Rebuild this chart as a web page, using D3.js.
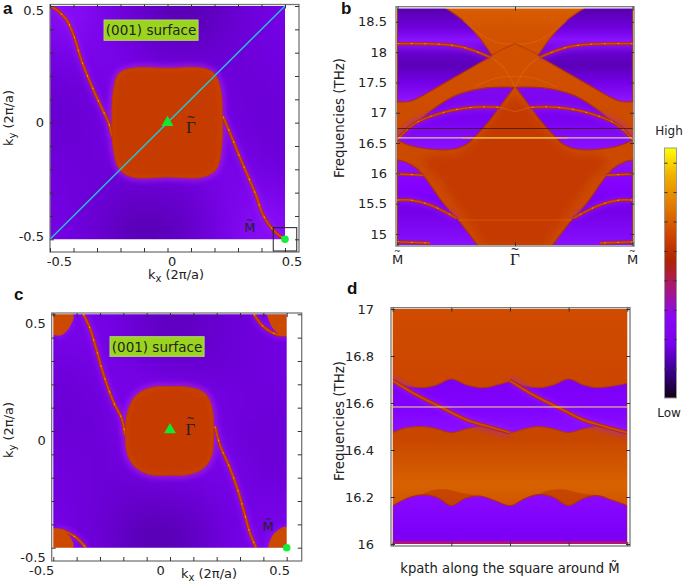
<!DOCTYPE html>
<html>
<head>
<meta charset="utf-8">
<script src="https://cdn.jsdelivr.net/npm/d3@7"></script>
<style>
  html, body { margin: 0; background: #fff; }
  text { font-family: "DejaVu Sans", sans-serif; fill: #222; }
  .letter { font-family: "Liberation Sans", sans-serif; font-weight: bold; font-size: 17px; fill: #111; }
  .tick line { stroke: #333; stroke-width: 1; }
</style>
</head>
<body>
<div id="chart"></div>
<script>
// everything is in k units / THz
const kTicks = d3.range(-5, 6).map(d => d / 10);
const kLabelsA = [[-0.46, '-0.5'], [0.02, '0'], [0.53, '0.5']];
const kLabelsC = [[-0.55, '-0.5'], [-0.04, '0'], [0.47, '0.5']];
const kyLabelsA = [[0.48, '0.5'], [0, '0'], [-0.49, '-0.5']];
const kyLabelsC = [[0.46, '0.5'], [-0.04, '0'], [-0.54, '-0.5']];
const freqTicksB = [15, 15.5, 16, 16.5, 17, 17.5, 18, 18.5];
const freqTicksD = [16, 16.2, 16.4, 16.6, 16.8, 17];
const pathTicksB = [0, 1, 2];
const pathLabelsB = ['M', '\u0393', 'M'];
const pathTicksD = [0, 1, 2, 3, 4];

const paletteStops = [0, 0.11, 0.22, 0.33, 0.44, 0.55, 0.66, 0.77, 0.89, 1];
const paletteColors = ['#120012', '#3a0090', '#7a00f0', '#8c08f0', '#a81878', '#b02400', '#d04800', '#e07c00', '#f0b000', '#ffff00'];

// background shade (0 dark .. 1 bright violet), rows top to bottom
const shadeA = [
  [.85, .9, .6, .35, .12, .08, .3, .45, .6],
  [.7, .8, .6, .4, .22, .18, .35, .45, .55],
  [.5, .55, .65, .5, .4, .4, .4, .45, .5],
  [.4, .4, .55, .65, .6, .6, .45, .4, .45],
  [.35, .35, .5, .7, .7, .7, .5, .4, .4],
  [.45, .4, .45, .6, .6, .6, .6, .45, .4],
  [.5, .45, .4, .4, .4, .45, .65, .6, .5],
  [.55, .45, .35, .2, .25, .35, .6, .8, .75],
  [.6, .45, .3, .08, .12, .35, .6, .9, .85]
];
const shadeC = [
  [.7, .6, .55, .35, .15, .25, .4, .45, .6],
  [.55, .6, .55, .4, .25, .3, .4, .45, .5],
  [.45, .45, .6, .5, .4, .4, .4, .45, .5],
  [.4, .4, .5, .65, .65, .6, .5, .45, .45],
  [.4, .4, .45, .7, .7, .7, .45, .4, .4],
  [.45, .45, .4, .6, .65, .6, .6, .4, .4],
  [.5, .45, .4, .35, .4, .45, .55, .5, .45],
  [.55, .45, .35, .2, .2, .3, .5, .55, .6],
  [.65, .5, .35, .12, .08, .25, .5, .6, .7]
];

const pocketA = [[-0.15, 0.233], [0, 0.233], [0.15, 0.233], [0.2, 0.21], [0.226, 0.14], [0.233, 0.03], [0.23, -0.1], [0.207, -0.2], [0.15, -0.233], [0, -0.233], [-0.15, -0.233], [-0.204, -0.2], [-0.229, -0.12], [-0.236, 0], [-0.231, 0.13], [-0.207, 0.21]];
const lineA1 = [[-0.5, 0.5], [-0.471, 0.483], [-0.429, 0.44], [-0.4, 0.376], [-0.364, 0.261], [-0.321, 0.154], [-0.279, 0.061], [-0.25, -0.003], [-0.236, -0.06]];
const lineA2 = [[0.236, 0.026], [0.264, -0.039], [0.307, -0.146], [0.343, -0.231], [0.379, -0.317], [0.4, -0.381], [0.429, -0.434], [0.464, -0.474], [0.5, -0.5]];

const pocketC = [[0, 0.19], [0.086, 0.186], [0.15, 0.161], [0.18, 0.097], [0.186, 0], [0.179, -0.103], [0.143, -0.16], [0.079, -0.186], [0, -0.189], [-0.086, -0.186], [-0.15, -0.153], [-0.183, -0.096], [-0.19, 0], [-0.179, 0.09], [-0.143, 0.154], [-0.079, 0.186]];
const cornerTL = [[-0.507, 0.411], [-0.464, 0.411], [-0.429, 0.447], [-0.417, 0.5], [-0.507, 0.5]];
const cornerTR = [[0.414, 0.5], [0.436, 0.447], [0.471, 0.414], [0.5, 0.414], [0.5, 0.5]];
const cornerBL = [[-0.507, -0.417], [-0.464, -0.42], [-0.429, -0.453], [-0.417, -0.5], [-0.507, -0.5]];
const cornerBR = [[0.419, -0.5], [0.436, -0.453], [0.464, -0.424], [0.5, -0.414], [0.5, -0.5]];
const lineC1 = [[-0.371, 0.5], [-0.343, 0.44], [-0.321, 0.369], [-0.286, 0.246], [-0.243, 0.126], [-0.207, 0.054], [-0.193, -0.017]];
const lineC2 = [[0.193, 0.019], [0.214, -0.06], [0.257, -0.16], [0.293, -0.26], [0.321, -0.36], [0.343, -0.439], [0.369, -0.5]];
const lineC3 = [[-0.464, -0.424], [-0.407, -0.453], [-0.36, -0.5]];
const lineC4 = [[0.36, 0.5], [0.4, 0.447], [0.457, 0.414], [0.5, 0.411]];

// panel b, left half only: k 0 (M) .. 1 (Gamma), mirrored for the right half
const b1Top = [[0, 18.75], [0.412, 18.75]];
const b1Side = [[0.412, 18.72], [0.559, 18.52], [0.7, 18.225], [0.8, 17.95]];
const b1Low = [[0.78, 17.91], [0.616, 17.73], [0.39, 17.48], [0.22, 17.29], [0.107, 17.19], [0, 17.18]];
const b2Top = [[0, 16.56], [0.136, 16.78], [0.277, 17.02], [0.503, 17.29], [0.757, 17.41], [0.992, 17.42]];
const b2Low = [[0.992, 17.42], [0.87, 17.1], [0.785, 16.88], [0.686, 16.66], [0.588, 16.48], [0.475, 16.4], [0.277, 16.4], [0.107, 16.46], [0, 16.55]];
const b3Edge = [[0, 16.22], [0.065, 16.19], [0.164, 16.08], [0.249, 15.89], [0.39, 15.505], [0.517, 15.23], [0.686, 14.8]];
const b3Low = [[0.686, 14.75], [0, 14.75]];
const bCore = [[1, 17.3], [0.85, 17], [0.68, 16.55], [0.5, 16.3], [0.3, 16.3], [0.2, 16.2], [0.36, 15.9], [0.52, 15.45], [0.75, 14.82], [1, 14.82]];
const bBands = [
  [[0, 18.14], [0.362, 18.13], [0.559, 18.08], [0.785, 17.92]],
  [[0, 16.56], [0.136, 16.81], [0.362, 16.99], [0.644, 17.09], [0.87, 17.09]],
  [[0, 15.99], [0.22, 15.97]],
  [[0, 15.56], [0.107, 15.56], [0.277, 15.48], [0.503, 15.26]],
  [[0, 14.87], [0.277, 14.85]]
];
const bFaint = [
  [[0.56, 18.52], [0.7, 18.3], [0.85, 18.16], [1, 18.13]],
  [[0.644, 17.42], [0.84, 17.57], [1, 17.6]],
  [[0.8, 17.9], [0.9, 17.75], [1, 17.42]],
  [[0.87, 17.09], [1, 17.02]],
  [[0.517, 15.23], [1, 15.23]]
];
const bEdgeDark = [[0.8, 17.95], [0.9, 18.05], [1, 18.14]];
const bBlackLine = 16.74;
const bYellowLine = 16.585;

// panel d, four kpath segments
const d1Top = [[0, 16.7], [0.239, 16.672], [0.494, 16.665], [0.75, 16.677], [1, 16.702], [1.261, 16.677], [1.545, 16.665], [1.83, 16.68], [2, 16.69], [2.25, 16.672], [2.483, 16.665], [2.739, 16.677], [3, 16.702], [3.25, 16.677], [3.477, 16.665], [3.761, 16.672], [4, 16.684]];
const d1Low = [[4, 16.475], [3.761, 16.49], [3.477, 16.5], [3.25, 16.49], [3, 16.474], [2.739, 16.49], [2.483, 16.5], [2.25, 16.49], [2, 16.474], [1.77, 16.488], [1.489, 16.5], [1.261, 16.49], [1, 16.474], [0.75, 16.49], [0.494, 16.5], [0.239, 16.495], [0, 16.474]];
const d2Top = [[0, 16.163], [0.239, 16.194], [0.511, 16.209], [0.75, 16.199], [1, 16.163], [1.233, 16.194], [1.477, 16.204], [1.716, 16.187], [2, 16.163], [2.256, 16.194], [2.511, 16.211], [2.739, 16.199], [3, 16.163], [3.25, 16.194], [3.477, 16.206], [3.733, 16.187], [4, 16.163]];
const d2Low = [[4, 16], [0, 16]];
const dArc1 = [[0.511, 16.209], [0.64, 16.227], [0.89, 16.233], [1.2, 16.216], [1.477, 16.204], [1.233, 16.194], [1, 16.163], [0.75, 16.199]];
const dArc2 = [[2.511, 16.211], [2.64, 16.227], [2.89, 16.233], [3.2, 16.216], [3.477, 16.206], [3.25, 16.194], [3, 16.163], [2.739, 16.199]];
const dBand1 = [[0, 16.695], [0.409, 16.634], [0.864, 16.577], [1.261, 16.528], [1.602, 16.502], [2, 16.474]];
const dBand2 = [[2, 16.695], [2.398, 16.634], [2.852, 16.577], [3.25, 16.528], [3.591, 16.502], [4, 16.474]];
const dYellowLine = 16.583;

const svg = d3.select('#chart').append('svg').attr('width', 685).attr('height', 583);
const defs = svg.append('defs');

[['blurS', 0.6], ['blurM', 2.5], ['blurC', 4], ['blurXL', 15]].forEach(([id, s]) => {
  defs.append('filter').attr('id', id)
    .attr('x', '-30%').attr('y', '-30%').attr('width', '160%').attr('height', '160%')
    .attr('color-interpolation-filters', 'sRGB')
    .append('feGaussianBlur').attr('stdDeviation', s);
});

function gradient(id, stops, y1, y2) {
  const g = defs.append('linearGradient').attr('id', id)
    .attr('gradientUnits', 'userSpaceOnUse')
    .attr('x1', 0).attr('x2', 0).attr('y1', y1).attr('y2', y2);
  stops.forEach(s => g.append('stop').attr('offset', s[0]).attr('stop-color', s[1]));
}

function clipRect(id, x, y, w, h) {
  defs.append('clipPath').attr('id', id).append('rect')
    .attr('x', x).attr('y', y).attr('width', w).attr('height', h);
}

function makeLine(x, y, curve) {
  return d3.line().x(d => x(d[0])).y(d => y(d[1])).curve(curve || d3.curveCatmullRom);
}

// pocket outline made of smooth edges with sharp corners between them
function edgesPath(x, y, edges, curve) {
  const line = makeLine(x, y, curve);
  return edges.map((e, i) => i === 0 ? line(e) : 'L' + line(e).slice(1)).join('') + 'Z';
}

function drawBand(g, line, pts, w, beads) {
  w = w || 1;
  g.append('path').attr('d', line(pts)).attr('fill', 'none')
    .attr('stroke', '#9c1cff').attr('stroke-width', 8 * w).attr('opacity', 0.45).attr('filter', 'url(#blurM)');
  g.append('path').attr('d', line(pts)).attr('fill', 'none')
    .attr('stroke', '#ac2a18').attr('stroke-width', 3.6 * w);
  g.append('path').attr('d', line(pts)).attr('fill', 'none')
    .attr('stroke', '#d04c08').attr('stroke-width', 1.6 * w);
  if (beads !== false) {
    g.append('path').attr('d', line(pts)).attr('fill', 'none')
      .attr('stroke', '#ffb030').attr('stroke-width', 1.1 * w).attr('stroke-dasharray', '1.5 12').attr('opacity', 0.75);
  }
}

function drawAxes(g, box, x, xTicks, y, yTicks) {
  g.append('rect').attr('x', box.x0).attr('y', box.y0)
    .attr('width', box.x1 - box.x0).attr('height', box.y1 - box.y0)
    .attr('fill', 'none').attr('stroke', '#777').attr('stroke-width', 1.3);

  const axes = [
    [d3.axisBottom(x).tickValues(xTicks).tickSize(-4), `translate(0,${box.y1})`],
    [d3.axisTop(x).tickValues(xTicks).tickSize(-4), `translate(0,${box.y0})`],
    [d3.axisLeft(y).tickValues(yTicks).tickSize(-4), `translate(${box.x0},0)`],
    [d3.axisRight(y).tickValues(yTicks).tickSize(-4), `translate(${box.x1},0)`]
  ];
  axes.forEach(a => {
    const ag = g.append('g').attr('transform', a[1]).call(a[0].tickFormat(''));
    ag.select('.domain').remove();
  });
}

function label(g, px, py, str, size, anchor) {
  return g.append('text').attr('x', px).attr('y', py).attr('text-anchor', anchor || 'middle')
    .attr('dominant-baseline', 'central').attr('font-size', size).text(str);
}

// "k" + subscript + " (2pi/a)"
function kLabel(g, px, py, sub, rotate) {
  const t = g.append('text').attr('text-anchor', 'middle').attr('font-size', 13)
    .attr('transform', `translate(${px},${py})` + (rotate ? ' rotate(-90)' : ''));
  t.append('tspan').text('k');
  t.append('tspan').attr('dy', 3).attr('font-size', 10).text(sub);
  t.append('tspan').attr('dy', -3).text(' (2\u03c0/a)');
}

// combining tilde lands in the top bar of the letter, so it is set by hand
// as a raised tspan in the same text (widths are the letter advance in em)
function tildeLabel(g, px, py, str, size) {
  const gamma = str === '\u0393';
  const w = (gamma ? 0.578 : 0.863) * size;
  const tw = 0.838 * size * 0.62;
  const t = g.append('text').attr('x', px - w / 2).attr('y', py + size * 0.35).attr('font-size', size);
  const l = t.append('tspan').text(str);
  if (gamma) l.style('font-family', '"Liberation Serif", serif');
  t.append('tspan').attr('font-size', size * 0.62)
    .attr('dx', -(w + tw) / 2).attr('dy', -size * 0.72).text('~');
}

function surfaceTag(g, x, y, x0, x1, y0, y1) {
  g.append('rect').attr('x', x(x0)).attr('y', y(y0))
    .attr('width', x(x1) - x(x0)).attr('height', y(y1) - y(y0))
    .attr('fill', '#9ad41e').attr('stroke', '#b4d870');
  label(g, (x(x0) + x(x1)) / 2, (y(y0) + y(y1)) / 2, '(001) surface', 13.5);
}

function surfacePanel(o) {
  const g = svg.append('g');
  const x = d3.scaleLinear().domain([-0.5, 0.5]).range(o.xr);
  const y = d3.scaleLinear().domain([-0.5, 0.5]).range(o.yr);
  clipRect(o.id, o.xr[0], o.yr[1], o.xr[1] - o.xr[0], o.yr[0] - o.yr[1]);
  const plot = g.append('g').attr('clip-path', `url(#${o.id})`).append('g').attr('filter', 'url(#blurS)');
  const shade = d3.scaleLinear().domain([0, 0.5, 1]).range(['#5000a4', '#7200e2', '#9212ff']);

  plot.append('rect').attr('x', o.xr[0] - 20).attr('y', o.yr[1] - 20)
    .attr('width', o.xr[1] - o.xr[0] + 40).attr('height', o.yr[0] - o.yr[1] + 40).attr('fill', '#7000dc');

  const col = d3.scaleLinear().domain([-1, 10]).range([x(-0.7), x(0.7)]);
  const row = d3.scaleLinear().domain([-1, 10]).range([y(0.7), y(-0.7)]);
  const cells = o.shade.flatMap((r, i) => r.map((v, j) => ({ i: i, j: j, v: v })));
  plot.append('g').attr('filter', 'url(#blurXL)')
    .selectAll('rect').data(cells).enter().append('rect')
    .attr('x', d => col(d.j - 0.05))
    .attr('y', d => row(d.i - 0.05))
    .attr('width', col(1) - col(0) + 2)
    .attr('height', row(1) - row(0) + 2)
    .attr('fill', d => shade(d.v));

  const closed = makeLine(x, y, d3.curveCatmullRomClosed);
  const open = makeLine(x, y);

  plot.append('path').attr('d', closed(o.pocket))
    .attr('fill', 'none').attr('stroke', '#9a14ff').attr('stroke-width', 9)
    .attr('opacity', 0.55).attr('filter', 'url(#blurM)');
  o.corners.forEach(c => {
    plot.append('path').attr('d', makeLine(x, y, d3.curveLinear)(c)).attr('fill', 'none')
      .attr('stroke', '#9a14ff').attr('stroke-width', 6).attr('opacity', 0.5).attr('filter', 'url(#blurM)');
  });

  o.bands.forEach(b => drawBand(plot, open, b));

  plot.append('path').attr('d', closed(o.pocket)).attr('fill', '#c63c00')
    .attr('stroke', '#bc3400').attr('stroke-width', 1);
  plot.append('path').attr('d', closed(o.pocket)).attr('fill', 'none')
    .attr('stroke', '#dc6a08').attr('stroke-width', 2.5).attr('opacity', 0.3).attr('filter', 'url(#blurM)');
  o.corners.forEach(c => {
    plot.append('path').attr('d', makeLine(x, y, d3.curveCardinal)(c) + 'Z').attr('fill', '#cc4a00');
  });

  if (o.cyan) {
    g.append('line').attr('x1', x(-0.5)).attr('y1', y(-0.5)).attr('x2', x(0.5)).attr('y2', y(0.5))
      .attr('stroke', '#22c6dc').attr('stroke-width', 1.4);
  }

  drawAxes(g, o.box, x, kTicks, y, kTicks);
  o.xLabels.forEach(d => label(g, x(d[0]), o.box.y1 + 9, d[1], 13));
  o.yLabels.forEach(d => label(g, o.box.x0 - 6, y(d[0]), d[1], 13, 'end'));
  kLabel(g, o.xTitle[0], o.xTitle[1], 'x', false);
  kLabel(g, o.yTitle[0], o.yTitle[1], 'y', true);

  surfaceTag(g, x, y, o.tag[0], o.tag[1], o.tag[2], o.tag[3]);

  g.append('path').attr('d', d3.symbol(d3.symbolTriangle, 62)())
    .attr('transform', `translate(${x(0)},${y(o.tri)})`).attr('fill', '#12e632');
  g.append('circle').attr('cx', x(0.5)).attr('cy', y(-0.5)).attr('r', 3.8).attr('fill', '#12ee3a');

  tildeLabel(g, x(o.gammaAt[0]), y(o.gammaAt[1]), '\u0393', 17);
  tildeLabel(g, x(o.mAt[0]), y(o.mAt[1]), 'M', 13);
  return { g: g, x: x, y: y };
}

const panelA = surfacePanel({
  id: 'clipA', xr: [50, 285], yr: [239.3, 6], box: { x0: 50, x1: 299, y0: 4.5, y1: 252 },
  shade: shadeA, pocket: pocketA, corners: [], bands: [lineA1, lineA2], cyan: true,
  xLabels: kLabelsA, yLabels: kyLabelsA, xTitle: [176, 279], yTitle: [13, 118],
  tag: [-0.27, 0.13, 0.44, 0.353], tri: 0, gammaAt: [0.1, -0.02], mAt: [0.35, -0.45]
});
panelA.g.append('rect')
  .attr('x', panelA.x(0.45)).attr('y', panelA.y(-0.45))
  .attr('width', panelA.x(0.55) - panelA.x(0.45)).attr('height', panelA.y(-0.55) - panelA.y(-0.45))
  .attr('fill', 'none').attr('stroke', '#222').attr('stroke-width', 1);

surfacePanel({
  id: 'clipC', xr: [53.3, 286.7], yr: [547.7, 314.3], box: { x0: 51.7, x1: 301.7, y0: 313, y1: 561 },
  shade: shadeC, pocket: pocketC, corners: [cornerTL, cornerTR, cornerBL, cornerBR],
  bands: [lineC1, lineC2, lineC3, lineC4], cyan: false,
  xLabels: kLabelsC, yLabels: kyLabelsC, xTitle: [209, 578], yTitle: [13, 430],
  tag: [-0.257, 0.146, 0.404, 0.32], tri: 0.005, gammaAt: [0.087, 0.01], mAt: [0.42, -0.41]
});

// panel b
(function () {
  const g = svg.append('g');
  const box = { x0: 396, x1: 634, y0: 6.7, y1: 246 };
  const x = d3.scaleLinear().domain([0, 2]).range([397.5, 632.5]);
  const y = d3.scaleLinear().domain([15, 18.5]).range([234, 21.8]);
  clipRect('clipB', 397, y(18.72), 236, y(14.82) - y(18.72));
  const plot = g.append('g').attr('clip-path', 'url(#clipB)').append('g').attr('filter', 'url(#blurS)');
  const mirror = pts => pts.map(d => [2 - d[0], d[1]]);
  const both = f => { f(d => d); f(mirror); };

  gradient('orangeB', [[0, '#d85c00'], [0.1, '#d25200'], [0.55, '#cc4a00'], [1, '#cc4800']], y(18.7), y(14.8));
  gradient('purpleB1', [[0, '#5a00b0'], [0.2, '#6e00dc'], [0.33, '#8a10ff'], [0.5, '#6400c8'], [0.62, '#5c00b8'], [0.8, '#7400e8'], [1, '#9014ff']], y(18.7), y(17.2));
  gradient('purpleB2', [[0, '#8008f0'], [0.5, '#7a00f0'], [1, '#8a10ff']], y(17.4), y(16.4));
  gradient('purpleB3', [[0, '#8a10ff'], [0.3, '#8400ff'], [0.6, '#7400e8'], [1, '#8a10ff']], y(16.2), y(14.8));

  plot.append('rect').attr('x', x(0) - 5).attr('y', y(18.8))
    .attr('width', x(2) - x(0) + 10).attr('height', y(14.7) - y(18.8)).attr('fill', 'url(#orangeB)');

  const closed = makeLine(x, y, d3.curveLinear);
  plot.append('path').attr('d', closed(bCore.concat(mirror(bCore).reverse())) + 'Z')
    .attr('fill', '#c43a00').attr('filter', 'url(#blurC)');

  const pockets = [
    [[b1Top, b1Side, b1Low], 'purpleB1'],
    [[b2Top, b2Low], 'purpleB2'],
    [[b3Edge, b3Low], 'purpleB3']
  ];
  both(m => {
    pockets.forEach(p => {
      const path = edgesPath(x, y, p[0].map(m));
      plot.append('path').attr('d', path).attr('fill', 'url(#' + p[1] + ')')
        .attr('stroke', '#a82c20').attr('stroke-width', 1.2);
    });
  });
  both(m => {
    bBands.forEach(b => drawBand(plot, makeLine(x, y), m(b), 0.9));
    bFaint.forEach(b => {
      plot.append('path').attr('d', makeLine(x, y)(m(b))).attr('fill', 'none')
        .attr('stroke', '#e06c10').attr('stroke-width', 1.3).attr('opacity', 0.45);
    });
    plot.append('path').attr('d', makeLine(x, y)(m(bEdgeDark))).attr('fill', 'none')
      .attr('stroke', '#b03808').attr('stroke-width', 1.2).attr('opacity', 0.7);
  });

  const lines = g.append('g').attr('clip-path', 'url(#clipB)');
  lines.append('line').attr('x1', x(0)).attr('x2', x(2)).attr('y1', y(bBlackLine)).attr('y2', y(bBlackLine))
    .attr('stroke', '#401810').attr('stroke-width', 1).attr('opacity', 0.8);
  lines.append('line').attr('x1', x(0)).attr('x2', x(2)).attr('y1', y(bYellowLine)).attr('y2', y(bYellowLine))
    .attr('stroke', '#d8c8a8').attr('stroke-width', 1.2);
  lines.append('line').attr('x1', x(0.55)).attr('x2', x(1.45)).attr('y1', y(bYellowLine)).attr('y2', y(bYellowLine))
    .attr('stroke', '#f0b800').attr('stroke-width', 1);

  drawAxes(g, box, x, pathTicksB, y, freqTicksB);
  freqTicksB.forEach(d => label(g, 387, y(d), String(d), 13, 'end'));
  pathTicksB.forEach((d, i) => tildeLabel(g, x(d), 259, pathLabelsB[i], i === 1 ? 17 : 13));
  label(g, 339, 118, 'Frequencies (THz)', 13.4).attr('transform', 'rotate(-90 339 118)');
})();

// panel d
(function () {
  const g = svg.append('g');
  const box = { x0: 391, x1: 630, y0: 307.7, y1: 546 };
  const x = d3.scaleLinear().domain([0, 4]).range([392.7, 627.3]);
  const y = d3.scaleLinear().domain([16, 17]).range([544, 309]);
  clipRect('clipD', x(0), y(17), x(4) - x(0), y(16) - y(17));
  const plot = g.append('g').attr('clip-path', 'url(#clipD)').append('g').attr('filter', 'url(#blurS)');

  gradient('orangeD', [[0, '#d04c00'], [0.25, '#cc4600'], [0.55, '#c84600'], [0.75, '#d86200'], [0.84, '#d05400']], y(17), y(16));
  gradient('purpleD', [[0, '#7c00f4'], [0.5, '#8000ff'], [1, '#8a10ff']], y(16.7), y(16.47));
  gradient('purpleD2', [[0, '#8a08ff'], [0.7, '#7c00f8'], [1, '#8000f0']], y(16.2), y(16));

  plot.append('rect').attr('x', x(0) - 5).attr('y', y(17) - 5)
    .attr('width', x(4) - x(0) + 10).attr('height', y(16) - y(17) + 10).attr('fill', 'url(#orangeD)');

  [dArc1, dArc2].forEach(a => {
    plot.append('path').attr('d', makeLine(x, y, d3.curveCatmullRomClosed)(a)).attr('fill', '#bc3600').attr('opacity', 0.6);
  });

  const mono = d3.curveMonotoneX;
  plot.append('path').attr('d', edgesPath(x, y, [d1Top, d1Low], mono))
    .attr('fill', 'url(#purpleD)').attr('stroke', '#b03414').attr('stroke-width', 1.1);
  plot.append('path').attr('d', edgesPath(x, y, [d2Top, d2Low], mono))
    .attr('fill', 'url(#purpleD2)').attr('stroke', '#a82c20').attr('stroke-width', 1.1);

  // thin magenta strip along the bottom
  plot.append('rect').attr('x', x(0) - 5).attr('y', y(16.012))
    .attr('width', x(4) - x(0) + 10).attr('height', 8).attr('fill', '#b01478');

  [dBand1, dBand2].forEach(b => drawBand(plot, makeLine(x, y), b, 1.1, false));

  g.append('line').attr('x1', x(0)).attr('x2', x(4)).attr('y1', y(dYellowLine)).attr('y2', y(dYellowLine))
    .attr('stroke', '#f4e080').attr('stroke-width', 1);

  drawAxes(g, box, x, pathTicksD, y, freqTicksD);
  freqTicksD.forEach(d => label(g, 374, y(d), String(d), 13, 'end'));
  label(g, 339, 421, 'Frequencies (THz)', 13.4).attr('transform', 'rotate(-90 339 421)');
  label(g, 510, 568, 'kpath along the square around M\u0303', 13.2);
})();

// colorbar
(function () {
  const g = svg.append('g');
  const y = d3.scaleLinear().domain([0, 1]).range([398, 148]);
  const color = d3.scaleLinear().domain(paletteStops).range(paletteColors);
  gradient('palette', paletteStops.map(s => [1 - s, color(s)]).reverse(), y(1), y(0));
  g.append('rect').attr('x', 664.5).attr('y', y(1)).attr('width', 12).attr('height', y(0) - y(1))
    .attr('fill', 'url(#palette)').attr('stroke', '#999').attr('stroke-width', 1);
  const axisL = d3.axisRight(y).tickValues(d3.range(1, 9).map(d => d / 8.5)).tickSize(3).tickFormat('');
  const axisR = d3.axisLeft(y).tickValues(d3.range(1, 9).map(d => d / 8.5)).tickSize(3).tickFormat('');
  g.append('g').attr('transform', 'translate(664.5,0)').call(axisL).select('.domain').remove();
  g.append('g').attr('transform', 'translate(676.5,0)').call(axisR).select('.domain').remove();
  label(g, 669, 131, 'High', 12);
  label(g, 669, 413, 'Low', 12);
})();

[['a', 3, 14], ['b', 341, 14], ['c', 14, 300], ['d', 347, 294]].forEach(d => {
  svg.append('text').attr('class', 'letter').attr('x', d[1]).attr('y', d[2]).text(d[0]);
});
</script>
</body>
</html>
